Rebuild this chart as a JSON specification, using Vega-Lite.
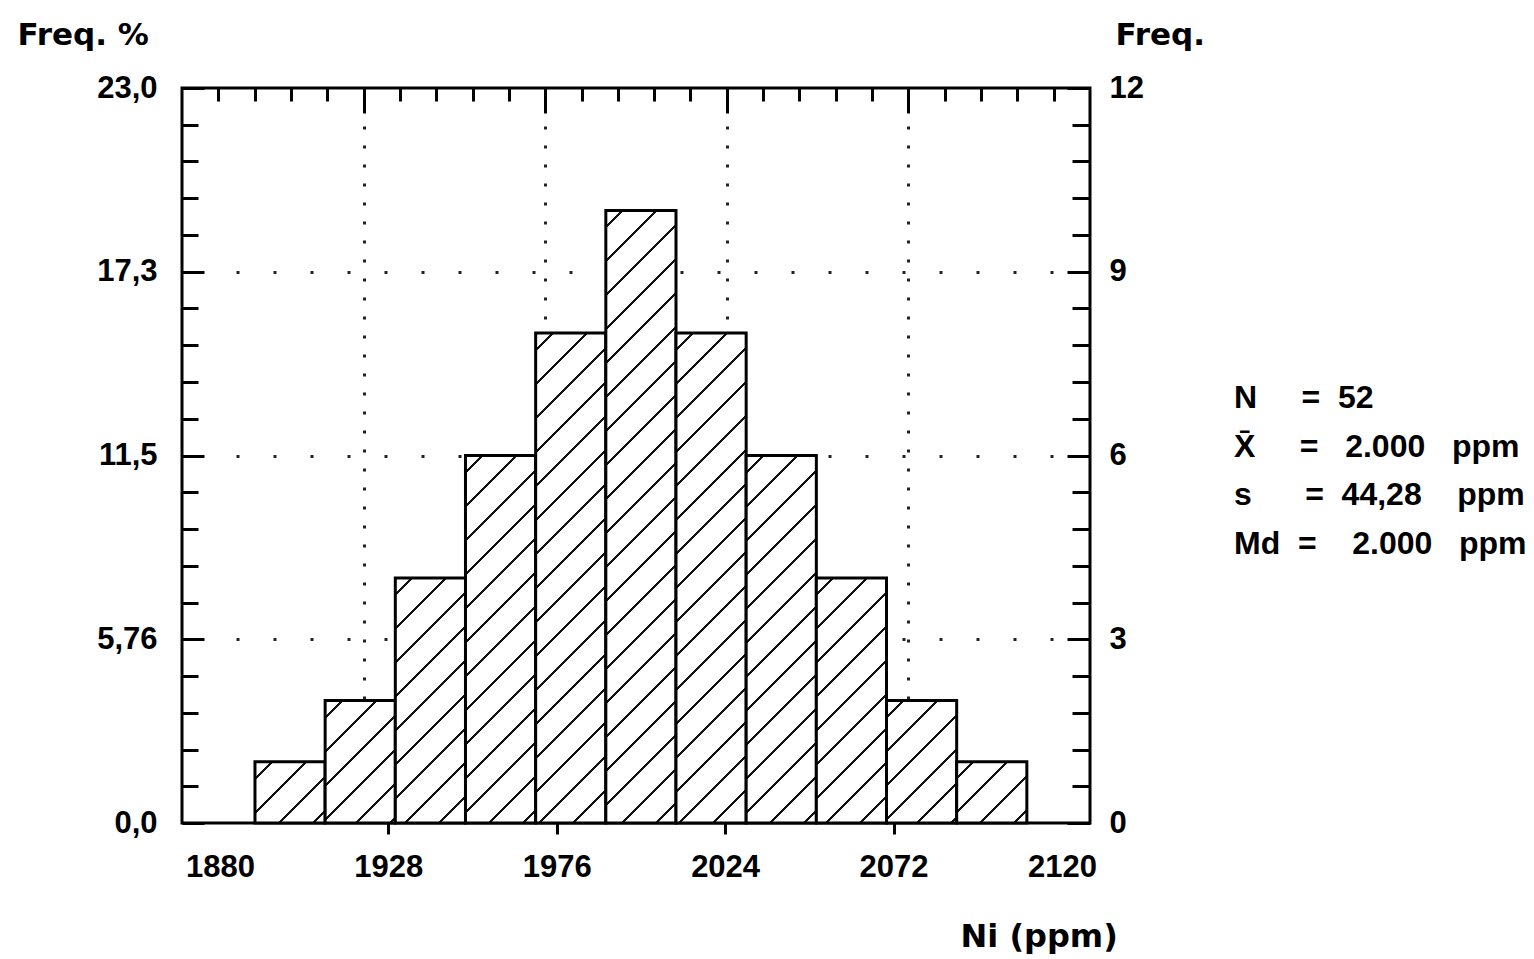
{
  "$schema": "https://vega.github.io/schema/vega-lite/v6.json",
  "autosize": {"type": "pad"},
  "padding": {"left": 15, "top": 17, "right": 5, "bottom": 0},
  "background": "white",
  "datasets": {
    "bins": [
      {"bin_start": 1890, "bin_end": 1910, "count": 1},
      {"bin_start": 1910, "bin_end": 1930, "count": 2},
      {"bin_start": 1930, "bin_end": 1950, "count": 4},
      {"bin_start": 1950, "bin_end": 1970, "count": 6},
      {"bin_start": 1970, "bin_end": 1990, "count": 8},
      {"bin_start": 1990, "bin_end": 2010, "count": 10},
      {"bin_start": 2010, "bin_end": 2030, "count": 8},
      {"bin_start": 2030, "bin_end": 2050, "count": 6},
      {"bin_start": 2050, "bin_end": 2070, "count": 4},
      {"bin_start": 2070, "bin_end": 2090, "count": 2},
      {"bin_start": 2090, "bin_end": 2110, "count": 1}
    ],
    "stats": [
      {"row": 1, "line": "N\u00a0\u00a0\u00a0\u00a0\u00a0=\u00a0\u00a052"},
      {"row": 2, "line": "X\u0304\u00a0\u00a0\u00a0\u00a0\u00a0=\u00a0\u00a0\u00a02.000\u00a0\u00a0\u00a0ppm"},
      {"row": 3, "line": "s\u00a0\u00a0\u00a0\u00a0\u00a0\u00a0=\u00a0\u00a044,28\u00a0\u00a0\u00a0\u00a0ppm"},
      {"row": 4, "line": "Md\u00a0\u00a0=\u00a0\u00a0\u00a0\u00a02.000\u00a0\u00a0\u00a0ppm"}
    ]
  },
  "spacing": 23,
  "hconcat": [
    {
      "width": 908,
      "height": 735,
      "view": {"stroke": "black", "strokeWidth": 3},
      "data": {"name": "bins"},
      "layer": [
        {
          "mark": {"type": "bar", "stroke": "black", "strokeWidth": 3},
          "encoding": {
            "x": {
              "field": "bin_start", "type": "quantitative",
              "scale": {"domain": [1869.2, 2128.0], "nice": false, "zero": false},
              "axis": {
                "orient": "bottom",
                "values": [1880, 1928, 1976, 2024, 2072, 2120],
                "format": "d",
                "tickSize": 11,
                "tickOpacity": {"condition": {"test": "datum.value == 1880 || datum.value == 2120", "value": 0}, "value": 1},
                "labelPadding": 18,
                "title": "Ni (ppm)",
                "titleFontSize": 32,
                "titleX": 778, "titleY": 123,
                "titleAlign": "left", "titleBaseline": "alphabetic", "titleAngle": 0
              }
            },
            "x2": {"field": "bin_end"},
            "y": {
              "field": "count", "type": "quantitative",
              "scale": {"domain": [0, 12], "nice": false},
              "axis": {
                "orient": "right",
                "values": [0,0.6,1.2,1.8,2.4,3,3.6,4.2,4.8,5.4,6,6.6,7.2,7.8,8.4,9,9.6,10.2,10.8,11.4,12],
                "labelExpr": "abs(datum.value/3 - round(datum.value/3)) < 0.01 ? format(datum.value, 'd') : ''",
                "tickSize": -23,
                "tickDash": {"condition": {"test": "abs(datum.value/3 - round(datum.value/3)) < 0.01", "value": [23, 10]}, "value": [18, 10]},
                "labelPadding": 42,
                "title": "Freq.",
                "titleAngle": 0, "titleX": 25, "titleY": -44,
                "titleAlign": "left", "titleBaseline": "alphabetic"
              }
            },
            "y2": {"datum": 0},
            "fill": {
              "condition": [
                {"test": "datum.count == 1", "value": {"gradient": "linear", "x1": 0, "y1": 0, "x2": 1.063, "y2": 0.9279, "stops": [
                  {"offset":0,"color":"#fff"},
                  {"offset":0.1179,"color":"#fff"},{"offset":0.1179,"color":"#111"},{"offset":0.1408,"color":"#111"},{"offset":0.1408,"color":"#fff"},
                  {"offset":0.3767,"color":"#fff"},{"offset":0.3767,"color":"#111"},{"offset":0.3995,"color":"#111"},{"offset":0.3995,"color":"#fff"},
                  {"offset":0.6354,"color":"#fff"},{"offset":0.6354,"color":"#111"},{"offset":0.6582,"color":"#111"},{"offset":0.6582,"color":"#fff"},
                  {"offset":0.8941,"color":"#fff"},{"offset":0.8941,"color":"#111"},{"offset":0.9169,"color":"#111"},{"offset":0.9169,"color":"#fff"},
                  {"offset":1,"color":"#fff"}]}},
                {"test": "datum.count == 2", "value": {"gradient": "linear", "x1": 0, "y1": 0, "x2": 0.6784, "y2": 1.1843, "stops": [
                  {"offset":0,"color":"#fff"},
                  {"offset":0.0804,"color":"#fff"},{"offset":0.0804,"color":"#111"},{"offset":0.0960,"color":"#111"},{"offset":0.0960,"color":"#fff"},
                  {"offset":0.2569,"color":"#fff"},{"offset":0.2569,"color":"#111"},{"offset":0.2725,"color":"#111"},{"offset":0.2725,"color":"#fff"},
                  {"offset":0.4334,"color":"#fff"},{"offset":0.4334,"color":"#111"},{"offset":0.4490,"color":"#111"},{"offset":0.4490,"color":"#fff"},
                  {"offset":0.6099,"color":"#fff"},{"offset":0.6099,"color":"#111"},{"offset":0.6254,"color":"#111"},{"offset":0.6254,"color":"#fff"},
                  {"offset":0.7863,"color":"#fff"},{"offset":0.7863,"color":"#111"},{"offset":0.8019,"color":"#111"},{"offset":0.8019,"color":"#fff"},
                  {"offset":0.9628,"color":"#fff"},{"offset":0.9628,"color":"#111"},{"offset":0.9784,"color":"#111"},{"offset":0.9784,"color":"#fff"},
                  {"offset":1,"color":"#fff"}]}},
                {"test": "datum.count == 4", "value": {"gradient": "linear", "x1": 0, "y1": 0, "x2": 0.3405, "y2": 1.1889, "stops": [
                  {"offset":0,"color":"#fff"},
                  {"offset":0.0492,"color":"#fff"},{"offset":0.0492,"color":"#111"},{"offset":0.0587,"color":"#111"},{"offset":0.0587,"color":"#fff"},
                  {"offset":0.1571,"color":"#fff"},{"offset":0.1571,"color":"#111"},{"offset":0.1666,"color":"#111"},{"offset":0.1666,"color":"#fff"},
                  {"offset":0.2649,"color":"#fff"},{"offset":0.2649,"color":"#111"},{"offset":0.2745,"color":"#111"},{"offset":0.2745,"color":"#fff"},
                  {"offset":0.3728,"color":"#fff"},{"offset":0.3728,"color":"#111"},{"offset":0.3823,"color":"#111"},{"offset":0.3823,"color":"#fff"},
                  {"offset":0.4807,"color":"#fff"},{"offset":0.4807,"color":"#111"},{"offset":0.4902,"color":"#111"},{"offset":0.4902,"color":"#fff"},
                  {"offset":0.5886,"color":"#fff"},{"offset":0.5886,"color":"#111"},{"offset":0.5981,"color":"#111"},{"offset":0.5981,"color":"#fff"},
                  {"offset":0.6964,"color":"#fff"},{"offset":0.6964,"color":"#111"},{"offset":0.7060,"color":"#111"},{"offset":0.7060,"color":"#fff"},
                  {"offset":0.8043,"color":"#fff"},{"offset":0.8043,"color":"#111"},{"offset":0.8138,"color":"#111"},{"offset":0.8138,"color":"#fff"},
                  {"offset":0.9122,"color":"#fff"},{"offset":0.9122,"color":"#111"},{"offset":0.9217,"color":"#111"},{"offset":0.9217,"color":"#fff"},
                  {"offset":1,"color":"#fff"}]}},
                {"test": "datum.count == 6", "value": {"gradient": "linear", "x1": 0, "y1": 0, "x2": 0.2194, "y2": 1.1490, "stops": [
                  {"offset":0,"color":"#fff"},
                  {"offset":0.0354,"color":"#fff"},{"offset":0.0354,"color":"#111"},{"offset":0.0423,"color":"#111"},{"offset":0.0423,"color":"#fff"},
                  {"offset":0.1131,"color":"#fff"},{"offset":0.1131,"color":"#111"},{"offset":0.1200,"color":"#111"},{"offset":0.1200,"color":"#fff"},
                  {"offset":0.1908,"color":"#fff"},{"offset":0.1908,"color":"#111"},{"offset":0.1976,"color":"#111"},{"offset":0.1976,"color":"#fff"},
                  {"offset":0.2685,"color":"#fff"},{"offset":0.2685,"color":"#111"},{"offset":0.2753,"color":"#111"},{"offset":0.2753,"color":"#fff"},
                  {"offset":0.3462,"color":"#fff"},{"offset":0.3462,"color":"#111"},{"offset":0.3530,"color":"#111"},{"offset":0.3530,"color":"#fff"},
                  {"offset":0.4238,"color":"#fff"},{"offset":0.4238,"color":"#111"},{"offset":0.4307,"color":"#111"},{"offset":0.4307,"color":"#fff"},
                  {"offset":0.5015,"color":"#fff"},{"offset":0.5015,"color":"#111"},{"offset":0.5084,"color":"#111"},{"offset":0.5084,"color":"#fff"},
                  {"offset":0.5792,"color":"#fff"},{"offset":0.5792,"color":"#111"},{"offset":0.5861,"color":"#111"},{"offset":0.5861,"color":"#fff"},
                  {"offset":0.6569,"color":"#fff"},{"offset":0.6569,"color":"#111"},{"offset":0.6637,"color":"#111"},{"offset":0.6637,"color":"#fff"},
                  {"offset":0.7346,"color":"#fff"},{"offset":0.7346,"color":"#111"},{"offset":0.7414,"color":"#111"},{"offset":0.7414,"color":"#fff"},
                  {"offset":0.8123,"color":"#fff"},{"offset":0.8123,"color":"#111"},{"offset":0.8191,"color":"#111"},{"offset":0.8191,"color":"#fff"},
                  {"offset":0.8899,"color":"#fff"},{"offset":0.8899,"color":"#111"},{"offset":0.8968,"color":"#111"},{"offset":0.8968,"color":"#fff"},
                  {"offset":0.9676,"color":"#fff"},{"offset":0.9676,"color":"#111"},{"offset":0.9745,"color":"#111"},{"offset":0.9745,"color":"#fff"},
                  {"offset":1,"color":"#fff"}]}},
                {"test": "datum.count == 8", "value": {"gradient": "linear", "x1": 0, "y1": 0, "x2": 0.1604, "y2": 1.1202, "stops": [
                  {"offset":0,"color":"#fff"},
                  {"offset":0.0277,"color":"#fff"},{"offset":0.0277,"color":"#111"},{"offset":0.0330,"color":"#111"},{"offset":0.0330,"color":"#fff"},
                  {"offset":0.0884,"color":"#fff"},{"offset":0.0884,"color":"#111"},{"offset":0.0937,"color":"#111"},{"offset":0.0937,"color":"#fff"},
                  {"offset":0.1491,"color":"#fff"},{"offset":0.1491,"color":"#111"},{"offset":0.1544,"color":"#111"},{"offset":0.1544,"color":"#fff"},
                  {"offset":0.2098,"color":"#fff"},{"offset":0.2098,"color":"#111"},{"offset":0.2151,"color":"#111"},{"offset":0.2151,"color":"#fff"},
                  {"offset":0.2705,"color":"#fff"},{"offset":0.2705,"color":"#111"},{"offset":0.2758,"color":"#111"},{"offset":0.2758,"color":"#fff"},
                  {"offset":0.3312,"color":"#fff"},{"offset":0.3312,"color":"#111"},{"offset":0.3365,"color":"#111"},{"offset":0.3365,"color":"#fff"},
                  {"offset":0.3918,"color":"#fff"},{"offset":0.3918,"color":"#111"},{"offset":0.3972,"color":"#111"},{"offset":0.3972,"color":"#fff"},
                  {"offset":0.4525,"color":"#fff"},{"offset":0.4525,"color":"#111"},{"offset":0.4579,"color":"#111"},{"offset":0.4579,"color":"#fff"},
                  {"offset":0.5132,"color":"#fff"},{"offset":0.5132,"color":"#111"},{"offset":0.5186,"color":"#111"},{"offset":0.5186,"color":"#fff"},
                  {"offset":0.5739,"color":"#fff"},{"offset":0.5739,"color":"#111"},{"offset":0.5793,"color":"#111"},{"offset":0.5793,"color":"#fff"},
                  {"offset":0.6346,"color":"#fff"},{"offset":0.6346,"color":"#111"},{"offset":0.6400,"color":"#111"},{"offset":0.6400,"color":"#fff"},
                  {"offset":0.6953,"color":"#fff"},{"offset":0.6953,"color":"#111"},{"offset":0.7007,"color":"#111"},{"offset":0.7007,"color":"#fff"},
                  {"offset":0.7560,"color":"#fff"},{"offset":0.7560,"color":"#111"},{"offset":0.7614,"color":"#111"},{"offset":0.7614,"color":"#fff"},
                  {"offset":0.8167,"color":"#fff"},{"offset":0.8167,"color":"#111"},{"offset":0.8221,"color":"#111"},{"offset":0.8221,"color":"#fff"},
                  {"offset":0.8774,"color":"#fff"},{"offset":0.8774,"color":"#111"},{"offset":0.8828,"color":"#111"},{"offset":0.8828,"color":"#fff"},
                  {"offset":0.9381,"color":"#fff"},{"offset":0.9381,"color":"#111"},{"offset":0.9435,"color":"#111"},{"offset":0.9435,"color":"#fff"},
                  {"offset":1,"color":"#fff"}]}}
              ],
              "value": {"gradient": "linear", "x1": 0, "y1": 0, "x2": 0.1260, "y2": 1.1001, "stops": [
                {"offset":0,"color":"#fff"},
                {"offset":0.0227,"color":"#fff"},{"offset":0.0227,"color":"#111"},{"offset":0.0271,"color":"#111"},{"offset":0.0271,"color":"#fff"},
                {"offset":0.0725,"color":"#fff"},{"offset":0.0725,"color":"#111"},{"offset":0.0769,"color":"#111"},{"offset":0.0769,"color":"#fff"},
                {"offset":0.1223,"color":"#fff"},{"offset":0.1223,"color":"#111"},{"offset":0.1267,"color":"#111"},{"offset":0.1267,"color":"#fff"},
                {"offset":0.1721,"color":"#fff"},{"offset":0.1721,"color":"#111"},{"offset":0.1765,"color":"#111"},{"offset":0.1765,"color":"#fff"},
                {"offset":0.2219,"color":"#fff"},{"offset":0.2219,"color":"#111"},{"offset":0.2263,"color":"#111"},{"offset":0.2263,"color":"#fff"},
                {"offset":0.2717,"color":"#fff"},{"offset":0.2717,"color":"#111"},{"offset":0.2761,"color":"#111"},{"offset":0.2761,"color":"#fff"},
                {"offset":0.3215,"color":"#fff"},{"offset":0.3215,"color":"#111"},{"offset":0.3259,"color":"#111"},{"offset":0.3259,"color":"#fff"},
                {"offset":0.3713,"color":"#fff"},{"offset":0.3713,"color":"#111"},{"offset":0.3757,"color":"#111"},{"offset":0.3757,"color":"#fff"},
                {"offset":0.4211,"color":"#fff"},{"offset":0.4211,"color":"#111"},{"offset":0.4255,"color":"#111"},{"offset":0.4255,"color":"#fff"},
                {"offset":0.4709,"color":"#fff"},{"offset":0.4709,"color":"#111"},{"offset":0.4753,"color":"#111"},{"offset":0.4753,"color":"#fff"},
                {"offset":0.5207,"color":"#fff"},{"offset":0.5207,"color":"#111"},{"offset":0.5251,"color":"#111"},{"offset":0.5251,"color":"#fff"},
                {"offset":0.5705,"color":"#fff"},{"offset":0.5705,"color":"#111"},{"offset":0.5749,"color":"#111"},{"offset":0.5749,"color":"#fff"},
                {"offset":0.6204,"color":"#fff"},{"offset":0.6204,"color":"#111"},{"offset":0.6248,"color":"#111"},{"offset":0.6248,"color":"#fff"},
                {"offset":0.6702,"color":"#fff"},{"offset":0.6702,"color":"#111"},{"offset":0.6746,"color":"#111"},{"offset":0.6746,"color":"#fff"},
                {"offset":0.7200,"color":"#fff"},{"offset":0.7200,"color":"#111"},{"offset":0.7244,"color":"#111"},{"offset":0.7244,"color":"#fff"},
                {"offset":0.7698,"color":"#fff"},{"offset":0.7698,"color":"#111"},{"offset":0.7742,"color":"#111"},{"offset":0.7742,"color":"#fff"},
                {"offset":0.8196,"color":"#fff"},{"offset":0.8196,"color":"#111"},{"offset":0.8240,"color":"#111"},{"offset":0.8240,"color":"#fff"},
                {"offset":0.8694,"color":"#fff"},{"offset":0.8694,"color":"#111"},{"offset":0.8738,"color":"#111"},{"offset":0.8738,"color":"#fff"},
                {"offset":0.9192,"color":"#fff"},{"offset":0.9192,"color":"#111"},{"offset":0.9236,"color":"#111"},{"offset":0.9236,"color":"#fff"},
                {"offset":0.9690,"color":"#fff"},{"offset":0.9690,"color":"#111"},{"offset":0.9734,"color":"#111"},{"offset":0.9734,"color":"#fff"},
                {"offset":1,"color":"#fff"}]}
            }
          }
        },
        {
          "mark": {"type": "rule", "opacity": 0},
          "encoding": {
            "y": {
              "field": "count", "type": "quantitative",
              "scale": {"domain": [0, 12], "nice": false},
              "axis": {
                "orient": "left",
                "values": [0,0.6,1.2,1.8,2.4,3,3.6,4.2,4.8,5.4,6,6.6,7.2,7.8,8.4,9,9.6,10.2,10.8,11.4,12],
                "labelExpr": "datum.value == 0 ? '0,0' : datum.value == 3 ? '5,76' : datum.value == 6 ? '11,5' : datum.value == 9 ? '17,3' : datum.value == 12 ? '23,0' : ''",
                "tickSize": -22,
                "tickDash": {"condition": {"test": "abs(datum.value/3 - round(datum.value/3)) < 0.01", "value": [22, 10]}, "value": [16, 10]},
                "labelPadding": 47,
                "grid": true,
                "gridOpacity": {"condition": {"test": "datum.value == 3 || datum.value == 6 || datum.value == 9", "value": 1}, "value": 0},
                "gridColor": "#222",
                "gridWidth": 3,
                "gridDash": [3, 34],
                "gridDashOffset": 20,
                "title": "Freq. %",
                "titleAngle": 0, "titleX": -165, "titleY": -44,
                "titleAlign": "left", "titleBaseline": "alphabetic"
              }
            }
          }
        },
        {
          "mark": {"type": "rule", "opacity": 0},
          "encoding": {
            "x": {
              "datum": 0, "type": "quantitative",
              "scale": {"domain": [0, 25], "nice": false, "zero": false},
              "axis": {
                "orient": "top",
                "values": [1,2,3,4,5,6,7,8,9,10,11,12,13,14,15,16,17,18,19,20,21,22,23,24],
                "labels": false,
                "tickSize": -25,
                "tickDash": {"condition": {"test": "datum.value % 5 == 0", "value": [25, 10]}, "value": [13, 20]},
                "grid": true,
                "gridOpacity": {"condition": {"test": "datum.value % 5 == 0", "value": 1}, "value": 0},
                "gridColor": "#222",
                "gridWidth": 3,
                "gridDash": [3, 16],
                "title": null
              }
            }
          }
        }
      ],
      "resolve": {"scale": {"x": "independent", "y": "independent"}}
    },
    {
      "width": 10,
      "height": 735,
      "view": {"stroke": null},
      "data": {"name": "stats"},
      "mark": {"type": "text", "align": "left", "baseline": "middle", "font": "Liberation Sans", "fontSize": 32, "fontWeight": "bold", "fill": "black"},
      "encoding": {
        "y": {"field": "row", "type": "quantitative", "scale": {"domain": [-5.366, 9.726], "reverse": true, "nice": false, "zero": false}, "axis": null},
        "text": {"field": "line"}
      }
    }
  ],
  "config": {
    "view": {"stroke": null},
    "font": "Liberation Sans",
    "axis": {
      "labelFont": "Liberation Sans",
      "labelFontSize": 31,
      "labelFontWeight": "bold",
      "labelColor": "black",
      "titleFont": "DejaVu Sans",
      "titleFontWeight": "bold",
      "titleFontSize": 31,
      "titleColor": "black",
      "tickColor": "black",
      "tickWidth": 3,
      "domain": false,
      "grid": false,
      "labelFlush": false,
      "labelOverlap": false
    }
  }
}
